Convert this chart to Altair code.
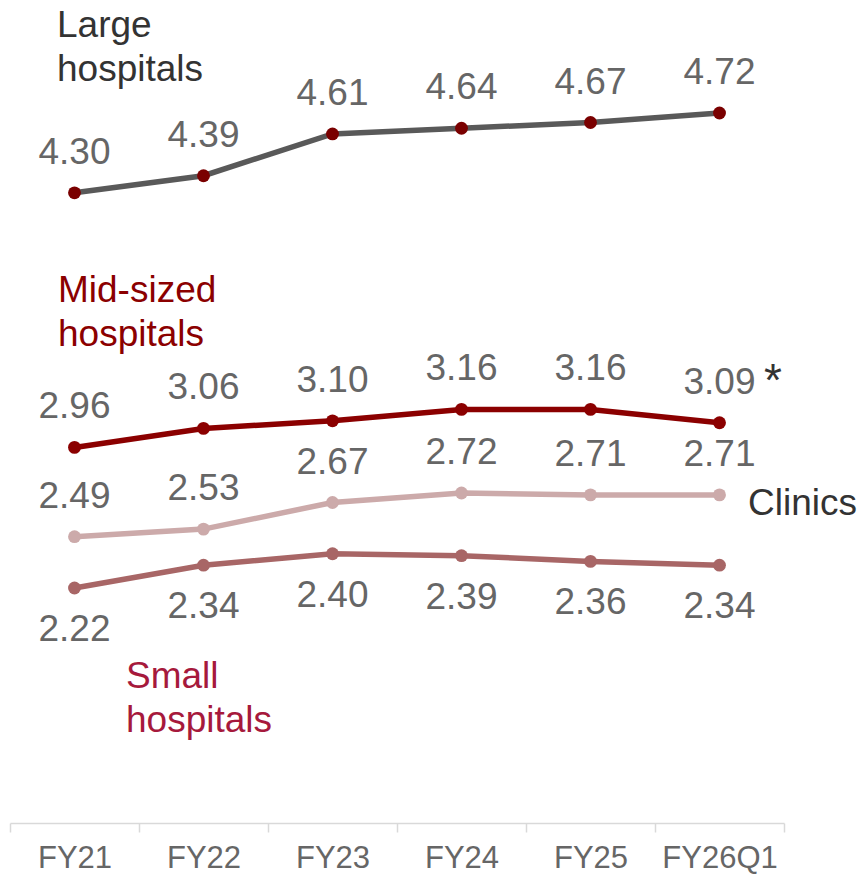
import altair as alt
import pandas as pd

# Fiscal periods on the x axis
periods = ["FY21", "FY22", "FY23", "FY24", "FY25", "FY26Q1"]

# Average values per facility type
large = [4.30, 4.39, 4.61, 4.64, 4.67, 4.72]
mid = [2.96, 3.06, 3.10, 3.16, 3.16, 3.09]
clinics = [2.49, 2.53, 2.67, 2.72, 2.71, 2.71]
small = [2.22, 2.34, 2.40, 2.39, 2.36, 2.34]

series_names = ["Large", "Mid", "Clinics", "Small"]
series_values = [large, mid, clinics, small]

line_colors = ["#595959", "#8B0000", "#CCAAAA", "#A86666"]
point_colors = ["#7A0000", "#8B0000", "#CCAAAA", "#A86666"]

FONT = "Liberation Sans"

rows = []
for name, vals in zip(series_names, series_values):
    for p, v in zip(periods, vals):
        rows.append({"period": p, "series": name, "value": v})
df = pd.DataFrame(rows)

x_enc = alt.X(
    "period:N",
    sort=periods,
    scale=alt.Scale(paddingInner=0, paddingOuter=0),
    axis=alt.Axis(
        title=None,
        labelFont=FONT,
        labelFontSize=31,
        labelColor="#666666",
        labelPadding=11,
        domainColor="#D9D9D9",
        domainWidth=1.5,
        tickColor="#D9D9D9",
        tickWidth=1.5,
        tickSize=9,
        tickBand="extent",
        grid=False,
        labelAngle=0,
    ),
)
y_enc = alt.Y(
    "value:Q",
    scale=alt.Scale(domain=[0.983, 5.315], nice=False, zero=False),
    axis=None,
)

base = alt.Chart(df)

lines = base.mark_line(strokeWidth=5.5).encode(
    x=x_enc,
    y=y_enc,
    color=alt.Color(
        "series:N",
        scale=alt.Scale(domain=series_names, range=line_colors),
        legend=None,
    ),
    detail="series:N",
)

points = base.mark_circle(size=165, opacity=1).encode(
    x=x_enc,
    y=y_enc,
    fill=alt.Fill(
        "series:N",
        scale=alt.Scale(domain=series_names, range=point_colors),
        legend=None,
    ),
)

label_style = dict(font=FONT, fontSize=37, color="#666666", align="center", baseline="middle")

labels_above = (
    base.transform_filter(alt.datum.series != "Small")
    .mark_text(dy=-40, **label_style)
    .encode(x=x_enc, y=y_enc, text=alt.Text("value:Q", format=".2f"))
)
labels_below = (
    base.transform_filter(alt.datum.series == "Small")
    .mark_text(dy=42, **label_style)
    .encode(x=x_enc, y=y_enc, text=alt.Text("value:Q", format=".2f"))
)


def note(text, x, y, color, size=37):
    return alt.Chart(pd.DataFrame({"t": [text]})).mark_text(
        font=FONT,
        fontSize=size,
        color=color,
        align="left",
        baseline="alphabetic",
        lineBreak="\n",
        lineHeight=44,
    ).encode(text="t:N", x=alt.value(x), y=alt.value(y))


notes = [
    note("Large\nhospitals", 47, 37, "#333333"),
    note("Mid-sized\nhospitals", 48, 302, "#8B0000"),
    note("Small\nhospitals", 116, 688, "#A6193C"),
    note("Clinics", 738, 515, "#333333"),
    note("*", 754, 396, "#333333", size=46),
]

chart = alt.layer(lines, points, labels_above, labels_below, *notes).properties(
    width=774,
    height=823,
    background="white",
    autosize=alt.AutoSizeParams(type="none"),
    padding={"left": 10, "top": 0, "right": 75, "bottom": 54},
).configure_view(stroke=None)

chart.save("out.html", embed_options={"renderer": "svg", "actions": False})
